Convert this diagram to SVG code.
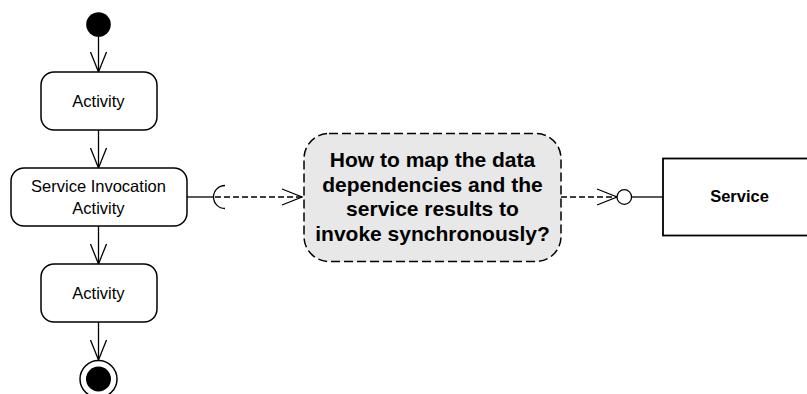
<svg xmlns="http://www.w3.org/2000/svg" width="807" height="394" viewBox="0 0 807 394">
<style>
.box{fill:#fff;stroke:#000;stroke-width:1.5}
.lbl{font-family:"Liberation Sans",Arial,sans-serif;font-size:16.5px;fill:#000;text-anchor:middle}
.bold{font-weight:bold}
.flow{fill:none;stroke:#000;stroke-width:1.3}
.dash{fill:none;stroke:#000;stroke-width:1.3;stroke-dasharray:6 3}
</style>
<defs>
<marker id="open" markerUnits="userSpaceOnUse" markerWidth="24" markerHeight="20" refX="20" refY="8" orient="auto" overflow="visible">
<path d="M0,0 L20,8 L0,16" fill="none" stroke="#000" stroke-width="1.3"/>
</marker>
</defs>
<g id="connectors">
<line class="flow" x1="98.5" y1="36" x2="98.5" y2="72" marker-end="url(#open)"/>
<line class="flow" x1="98.5" y1="130" x2="98.5" y2="168" marker-end="url(#open)"/>
<line class="flow" x1="98.5" y1="226" x2="98.5" y2="264" marker-end="url(#open)"/>
<line class="flow" x1="98.5" y1="322" x2="98.5" y2="360" marker-end="url(#open)"/>
<line class="flow" x1="187" y1="197" x2="213.5" y2="197"/>
<path class="flow" d="M225,185.5 A11.5,11.5 0 0 0 225,208.5"/>
<line class="dash" x1="215" y1="197" x2="302" y2="197" marker-end="url(#open)"/>
<line class="dash" x1="561" y1="197" x2="617" y2="197" marker-end="url(#open)"/>
<circle cx="624.3" cy="197" r="7.3" fill="#fff" stroke="#000" stroke-width="1.3"/>
<line class="flow" x1="631.6" y1="197" x2="663" y2="197"/>
</g>
<g id="initial">
<circle cx="98.5" cy="24.5" r="12.3" fill="#000"/>
</g>
<g id="activity1">
<rect class="box" x="41" y="72" width="116" height="58" rx="13" ry="13"/>
<text class="lbl" x="98.5" y="106.5">Activity</text>
</g>
<g id="service-invocation">
<rect class="box" x="11" y="168" width="176" height="58" rx="13" ry="13"/>
<text class="lbl" x="98.5" y="191.5">Service Invocation</text>
<text class="lbl" x="98.5" y="213.5">Activity</text>
</g>
<g id="activity2">
<rect class="box" x="41" y="264" width="116" height="58" rx="13" ry="13"/>
<text class="lbl" x="98.5" y="298.5">Activity</text>
</g>
<g id="final">
<circle cx="98.5" cy="379" r="18.5" fill="#fff" stroke="#000" stroke-width="1.5"/>
<circle cx="98.5" cy="379" r="12.5" fill="#000"/>
</g>
<g id="question">
<rect x="304" y="133.5" width="257" height="128" rx="25" ry="25" fill="#e8e8e8" stroke="#000" stroke-width="1.5" stroke-dasharray="9 4"/>
<text class="lbl bold" x="432.5" y="167" style="font-size:21px">How to map the data</text>
<text class="lbl bold" x="432.5" y="191.5" style="font-size:21px">dependencies and the</text>
<text class="lbl bold" x="432.5" y="216" style="font-size:21px">service results to</text>
<text class="lbl bold" x="432.5" y="240.5" style="font-size:21px">invoke synchronously?</text>
</g>
<g id="service">
<rect x="663" y="158.5" width="160" height="77" fill="#fff" stroke="#000" stroke-width="1.8"/>
<text class="lbl bold" x="739.5" y="201.5" style="font-size:16.5px">Service</text>
</g>
</svg>
